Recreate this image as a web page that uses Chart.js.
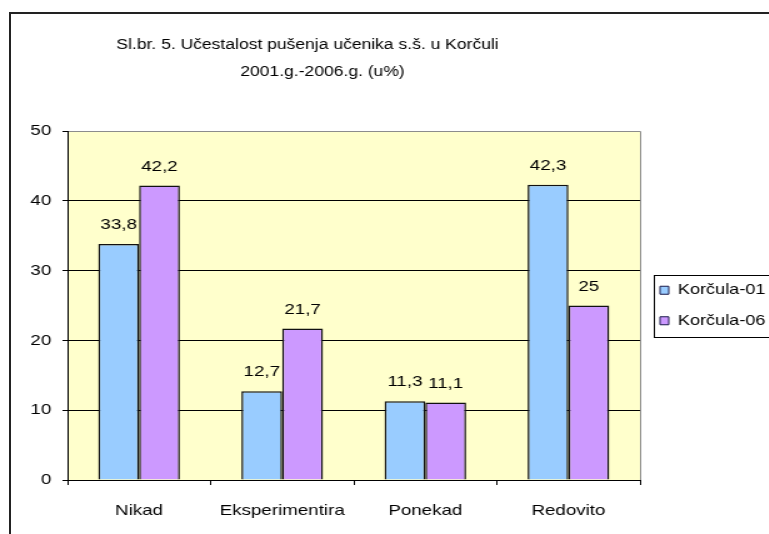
<!DOCTYPE html>
<html>
<head>
<meta charset="utf-8">
<script src="https://cdn.jsdelivr.net/npm/chart.js@4.4.0/dist/chart.umd.min.js"></script>
<style>
    html, body { margin: 0; padding: 0; background: #fff; overflow: hidden; }
    #wrap { position: relative; width: 769px; height: 534px; overflow: hidden; }
    #frame { position: absolute; left: 9px; top: 12px; width: 820px; height: 600px; border: 2px solid #222; }
    /* the original picture is stretched sideways, so the canvas is too */
    #chartContainer { position: absolute; left: 0; top: 0; transform: scaleX(1.25); transform-origin: 0 0; }
</style>
</head>
<body>
<div id="wrap">
    <div id="frame"></div>
    <canvas id="chartContainer" width="615" height="534"></canvas>
</div>
<script>
// データ
const categories = ['Nikad', 'Eksperimentira', 'Ponekad', 'Redovito'];
const korcula01 = [33.8, 12.7, 11.3, 42.3];
const korcula06 = [42.2, 21.7, 11.1, 25];
const seriesNames = ['Korčula-01', 'Korčula-06'];
const yTicks = [0, 10, 20, 30, 40, 50];
const titleLines = ['Sl.br. 5. Učestalost pušenja učenika s.š. u Korčuli', '2001.g.-2006.g. (u%)'];

const FONT = "'Liberation Sans', Arial, sans-serif";

// 値の表示（小数点はカンマ）
function fmt(v) {
    return String(v).replace('.', ',');
}

// プロットエリアの背景と枠
const plotArea = {
    id: 'plotArea',
    beforeDraw(chart) {
        const { ctx, chartArea: a } = chart;
        ctx.save();
        ctx.fillStyle = '#FFFFCC';
        ctx.fillRect(a.left, a.top, a.width, a.height);
        ctx.strokeStyle = '#8c8c8c';
        ctx.lineWidth = 1;
        ctx.beginPath();
        ctx.moveTo(a.left, a.top + 0.5);
        ctx.lineTo(a.right + 0.5, a.top + 0.5);
        ctx.lineTo(a.right + 0.5, a.bottom);
        ctx.stroke();
        ctx.restore();
    }
};

// タイトル（中央から少し左寄せ）
const titlePlugin = {
    id: 'titleText',
    afterDraw(chart) {
        const { ctx } = chart;
        ctx.save();
        ctx.font = '14px ' + FONT;
        ctx.fillStyle = '#000';
        ctx.textAlign = 'center';
        ctx.textBaseline = 'middle';
        ctx.fillText(titleLines[0], 246, 45);
        ctx.fillText(titleLines[1], 258, 72);
        ctx.restore();
    }
};

// 棒の上の値ラベル
const valueLabels = {
    id: 'valueLabels',
    afterDatasetsDraw(chart) {
        const { ctx } = chart;
        ctx.save();
        ctx.font = '15px ' + FONT;
        ctx.fillStyle = '#000';
        ctx.textAlign = 'center';
        ctx.textBaseline = 'middle';
        chart.data.datasets.forEach((ds, i) => {
            chart.getDatasetMeta(i).data.forEach((bar, j) => {
                ctx.fillText(fmt(ds.data[j]), bar.x, bar.y - 19);
            });
        });
        ctx.restore();
    }
};

// 凡例の枠
const legendBox = {
    id: 'legendBox',
    afterDraw(chart) {
        const lg = chart.legend;
        if (!lg || !lg.legendHitBoxes.length) return;
        const first = lg.legendHitBoxes[0];
        const last = lg.legendHitBoxes[lg.legendHitBoxes.length - 1];
        const { ctx } = chart;
        ctx.save();
        ctx.strokeStyle = '#000';
        ctx.lineWidth = 1;
        ctx.strokeRect(Math.round(first.left - 5) + 0.5, Math.round(first.top - 8) + 0.5,
            chart.width, Math.round(last.top + last.height - first.top + 17));
        ctx.restore();
    }
};

const ctx = document.getElementById('chartContainer').getContext('2d');

new Chart(ctx, {
    type: 'bar',
    data: {
        labels: categories,
        datasets: [
            {
                label: seriesNames[0],
                data: korcula01,
                backgroundColor: '#99CCFF',
                borderColor: '#111',
                borderWidth: 1.5
            },
            {
                label: seriesNames[1],
                data: korcula06,
                backgroundColor: '#CC99FF',
                borderColor: '#111',
                borderWidth: 1.5
            }
        ]
    },
    options: {
        responsive: false,
        animation: false,
        devicePixelRatio: 1,
        layout: {
            padding: { top: 131, left: 0, right: 0, bottom: 0 }
        },
        datasets: {
            bar: {
                categoryPercentage: 0.57,
                barPercentage: 1.0
            }
        },
        scales: {
            x: {
                afterFit(s) { s.height = 54; },
                grid: {
                    drawOnChartArea: false,
                    drawTicks: true,
                    tickLength: 5,
                    color: '#000'
                },
                border: { color: '#000', width: 1 },
                ticks: {
                    color: '#000',
                    padding: 17,
                    font: { family: FONT, size: 15 }
                }
            },
            y: {
                min: yTicks[0],
                max: yTicks[yTicks.length - 1],
                afterFit(s) { s.width = 54; },
                afterBuildTicks(s) {
                    s.ticks = yTicks.map(v => ({ value: v }));
                },
                grid: {
                    color: c => (c.tick && c.tick.value === yTicks[yTicks.length - 1]) ? 'rgba(0,0,0,0)' : '#000',
                    tickColor: '#000',
                    tickLength: 4,
                    lineWidth: 1
                },
                border: { color: '#000', width: 1 },
                ticks: {
                    color: '#000',
                    padding: 9,
                    font: { family: FONT, size: 15 }
                }
            }
        },
        plugins: {
            legend: {
                position: 'right',
                fullSize: false,
                maxWidth: 103,
                labels: {
                    boxWidth: 7,
                    boxHeight: 8,
                    padding: 16,
                    color: '#000',
                    font: { family: FONT, size: 14.5 },
                    generateLabels(chart) {
                        return chart.data.datasets.map((ds, i) => ({
                            text: ds.label,
                            fillStyle: ds.backgroundColor,
                            strokeStyle: '#1a1a4a',
                            lineWidth: 1,
                            datasetIndex: i,
                            hidden: false
                        }));
                    }
                }
            },
            title: { display: false },
            tooltip: { enabled: false }
        }
    },
    plugins: [plotArea, valueLabels, legendBox, titlePlugin]
});
</script>
</body>
</html>
